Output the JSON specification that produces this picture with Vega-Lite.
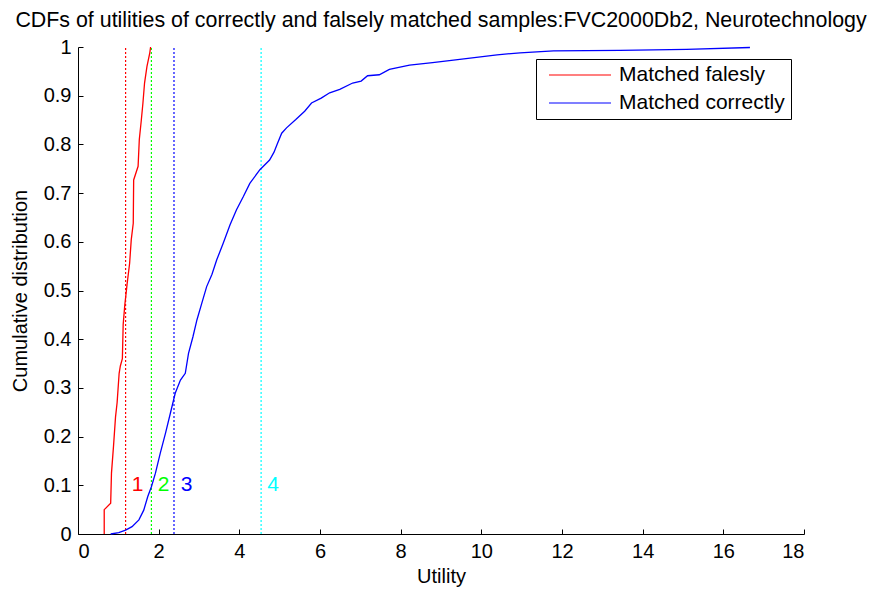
{
  "$schema": "https://vega.github.io/schema/vega-lite/v6.json",
  "width": 726,
  "height": 487,
  "autosize": {"type": "none"},
  "padding": {"left": 78, "top": 47, "right": 65, "bottom": 58},
  "background": "white",
  "config": {
    "font": "Liberation Sans",
    "view": {"stroke": null},
    "axis": {"grid": false, "domainColor": "black", "tickColor": "black", "labelColor": "black", "titleColor": "black", "labelFontSize": 20, "titleFontSize": 20, "titleFontWeight": "normal", "tickSize": -5, "labelPadding": 12, "domainWidth": 1, "tickWidth": 1}
  },
  "title": {"text": "CDFs of utilities of correctly and falsely matched samples:FVC2000Db2, Neurotechnology", "fontSize": 21.4, "fontWeight": "normal", "color": "black", "offset": 6, "anchor": "middle"},
  "datasets": {
    "curves": [
      {"series": "Matched falesly", "i": 0, "x": 0.65, "y": 0},
      {"series": "Matched falesly", "i": 1, "x": 0.65, "y": 0.05},
      {"series": "Matched falesly", "i": 2, "x": 0.81, "y": 0.063},
      {"series": "Matched falesly", "i": 3, "x": 0.83, "y": 0.125},
      {"series": "Matched falesly", "i": 4, "x": 0.88, "y": 0.18},
      {"series": "Matched falesly", "i": 5, "x": 0.93, "y": 0.24},
      {"series": "Matched falesly", "i": 6, "x": 0.97, "y": 0.27},
      {"series": "Matched falesly", "i": 7, "x": 1.02, "y": 0.33},
      {"series": "Matched falesly", "i": 8, "x": 1.05, "y": 0.345},
      {"series": "Matched falesly", "i": 9, "x": 1.10, "y": 0.36},
      {"series": "Matched falesly", "i": 10, "x": 1.12, "y": 0.43},
      {"series": "Matched falesly", "i": 11, "x": 1.16, "y": 0.47},
      {"series": "Matched falesly", "i": 12, "x": 1.22, "y": 0.515},
      {"series": "Matched falesly", "i": 13, "x": 1.28, "y": 0.556},
      {"series": "Matched falesly", "i": 14, "x": 1.32, "y": 0.604},
      {"series": "Matched falesly", "i": 15, "x": 1.37, "y": 0.638},
      {"series": "Matched falesly", "i": 16, "x": 1.38, "y": 0.727},
      {"series": "Matched falesly", "i": 17, "x": 1.49, "y": 0.755},
      {"series": "Matched falesly", "i": 18, "x": 1.52, "y": 0.81},
      {"series": "Matched falesly", "i": 19, "x": 1.57, "y": 0.85},
      {"series": "Matched falesly", "i": 20, "x": 1.61, "y": 0.885},
      {"series": "Matched falesly", "i": 21, "x": 1.65, "y": 0.926},
      {"series": "Matched falesly", "i": 22, "x": 1.71, "y": 0.96},
      {"series": "Matched falesly", "i": 23, "x": 1.78, "y": 0.988},
      {"series": "Matched falesly", "i": 24, "x": 1.80, "y": 1.0},
      {"series": "Matched correctly", "i": 0, "x": 0.81, "y": 0},
      {"series": "Matched correctly", "i": 1, "x": 1.01, "y": 0.003},
      {"series": "Matched correctly", "i": 2, "x": 1.18, "y": 0.008},
      {"series": "Matched correctly", "i": 3, "x": 1.34, "y": 0.015},
      {"series": "Matched correctly", "i": 4, "x": 1.51, "y": 0.029},
      {"series": "Matched correctly", "i": 5, "x": 1.63, "y": 0.049},
      {"series": "Matched correctly", "i": 6, "x": 1.73, "y": 0.077},
      {"series": "Matched correctly", "i": 7, "x": 1.82, "y": 0.097},
      {"series": "Matched correctly", "i": 8, "x": 1.92, "y": 0.125},
      {"series": "Matched correctly", "i": 9, "x": 2.04, "y": 0.166},
      {"series": "Matched correctly", "i": 10, "x": 2.17, "y": 0.207},
      {"series": "Matched correctly", "i": 11, "x": 2.29, "y": 0.248},
      {"series": "Matched correctly", "i": 12, "x": 2.41, "y": 0.289},
      {"series": "Matched correctly", "i": 13, "x": 2.54, "y": 0.316},
      {"series": "Matched correctly", "i": 14, "x": 2.66, "y": 0.33},
      {"series": "Matched correctly", "i": 15, "x": 2.74, "y": 0.371},
      {"series": "Matched correctly", "i": 16, "x": 2.85, "y": 0.405},
      {"series": "Matched correctly", "i": 17, "x": 2.95, "y": 0.44},
      {"series": "Matched correctly", "i": 18, "x": 3.07, "y": 0.474},
      {"series": "Matched correctly", "i": 19, "x": 3.19, "y": 0.508},
      {"series": "Matched correctly", "i": 20, "x": 3.32, "y": 0.533},
      {"series": "Matched correctly", "i": 21, "x": 3.44, "y": 0.563},
      {"series": "Matched correctly", "i": 22, "x": 3.60, "y": 0.597},
      {"series": "Matched correctly", "i": 23, "x": 3.77, "y": 0.635},
      {"series": "Matched correctly", "i": 24, "x": 3.93, "y": 0.666},
      {"series": "Matched correctly", "i": 25, "x": 4.10, "y": 0.693},
      {"series": "Matched correctly", "i": 26, "x": 4.26, "y": 0.72},
      {"series": "Matched correctly", "i": 27, "x": 4.51, "y": 0.748},
      {"series": "Matched correctly", "i": 28, "x": 4.75, "y": 0.768},
      {"series": "Matched correctly", "i": 29, "x": 4.86, "y": 0.784},
      {"series": "Matched correctly", "i": 30, "x": 4.94, "y": 0.801},
      {"series": "Matched correctly", "i": 31, "x": 5.05, "y": 0.823},
      {"series": "Matched correctly", "i": 32, "x": 5.17, "y": 0.834},
      {"series": "Matched correctly", "i": 33, "x": 5.40, "y": 0.851},
      {"series": "Matched correctly", "i": 34, "x": 5.62, "y": 0.868},
      {"series": "Matched correctly", "i": 35, "x": 5.79, "y": 0.885},
      {"series": "Matched correctly", "i": 36, "x": 6.03, "y": 0.895},
      {"series": "Matched correctly", "i": 37, "x": 6.24, "y": 0.906},
      {"series": "Matched correctly", "i": 38, "x": 6.49, "y": 0.913},
      {"series": "Matched correctly", "i": 39, "x": 6.81, "y": 0.926},
      {"series": "Matched correctly", "i": 40, "x": 7.02, "y": 0.93},
      {"series": "Matched correctly", "i": 41, "x": 7.18, "y": 0.941},
      {"series": "Matched correctly", "i": 42, "x": 7.47, "y": 0.943},
      {"series": "Matched correctly", "i": 43, "x": 7.72, "y": 0.954},
      {"series": "Matched correctly", "i": 44, "x": 8.22, "y": 0.963},
      {"series": "Matched correctly", "i": 45, "x": 8.79, "y": 0.968},
      {"series": "Matched correctly", "i": 46, "x": 9.31, "y": 0.973},
      {"series": "Matched correctly", "i": 47, "x": 10.39, "y": 0.984},
      {"series": "Matched correctly", "i": 48, "x": 10.96, "y": 0.988},
      {"series": "Matched correctly", "i": 49, "x": 11.79, "y": 0.992},
      {"series": "Matched correctly", "i": 50, "x": 13.44, "y": 0.993},
      {"series": "Matched correctly", "i": 51, "x": 15.09, "y": 0.995},
      {"series": "Matched correctly", "i": 52, "x": 16.66, "y": 0.999}
    ],
    "thresholds": [
      {"label": "1", "x": 1.18, "lx": 1.48, "ly": 0.1, "c": "#ff0000"},
      {"label": "2", "x": 1.82, "lx": 2.12, "ly": 0.1, "c": "#00ff00"},
      {"label": "3", "x": 2.38, "lx": 2.69, "ly": 0.1, "c": "#0000ff"},
      {"label": "4", "x": 4.54, "lx": 4.84, "ly": 0.1, "c": "#00ffff"}
    ]
  },
  "layer": [
    {
      "data": {"name": "thresholds"},
      "mark": {"type": "rule", "strokeDash": [2, 2], "strokeWidth": 1.2},
      "encoding": {
        "x": {"field": "x", "type": "quantitative", "scale": {"domain": [0, 18], "nice": false}},
        "y": {"datum": 0, "type": "quantitative"},
        "y2": {"datum": 1},
        "color": {"field": "c", "type": "nominal", "scale": null, "legend": null}
      }
    },
    {
      "data": {"name": "curves"},
      "mark": {"type": "line", "strokeWidth": 1.3},
      "encoding": {
        "x": {"field": "x", "type": "quantitative", "scale": {"domain": [0, 18], "nice": false},
              "axis": {"title": "Utility", "values": [0, 2, 4, 6, 8, 10, 12, 14, 16, 18], "titlePadding": 5}},
        "y": {"field": "y", "type": "quantitative", "scale": {"domain": [0, 1], "nice": false},
              "axis": {"title": "Cumulative distribution", "values": [0, 0.1, 0.2, 0.3, 0.4, 0.5, 0.6, 0.7, 0.8, 0.9, 1], "format": "~g", "titlePadding": 13}},
        "order": {"field": "i", "type": "quantitative"},
        "color": {"field": "series", "type": "nominal",
                  "scale": {"domain": ["Matched falesly", "Matched correctly"], "range": ["#ff0000", "#0000ff"]},
                  "legend": {"title": null, "orient": "none", "legendX": 458, "legendY": 12, "padding": 6,
                             "strokeColor": "black", "fillColor": "white", "symbolType": "stroke", "symbolSize": 3844,
                             "clipHeight": 20, "symbolOffset": 6,
                             "symbolStrokeWidth": 1.2, "labelFontSize": 21, "labelColor": "black", "labelOffset": 7,
                             "rowPadding": 7, "labelLimit": 400, "cornerRadius": 0}}
      }
    },
    {
      "data": {"name": "thresholds"},
      "mark": {"type": "text", "fontSize": 21, "align": "center", "baseline": "middle"},
      "encoding": {
        "x": {"field": "lx", "type": "quantitative"},
        "y": {"field": "ly", "type": "quantitative"},
        "text": {"field": "label"},
        "color": {"field": "c", "type": "nominal", "scale": null, "legend": null}
      }
    }
  ],
  "resolve": {"scale": {"color": "independent"}}
}
